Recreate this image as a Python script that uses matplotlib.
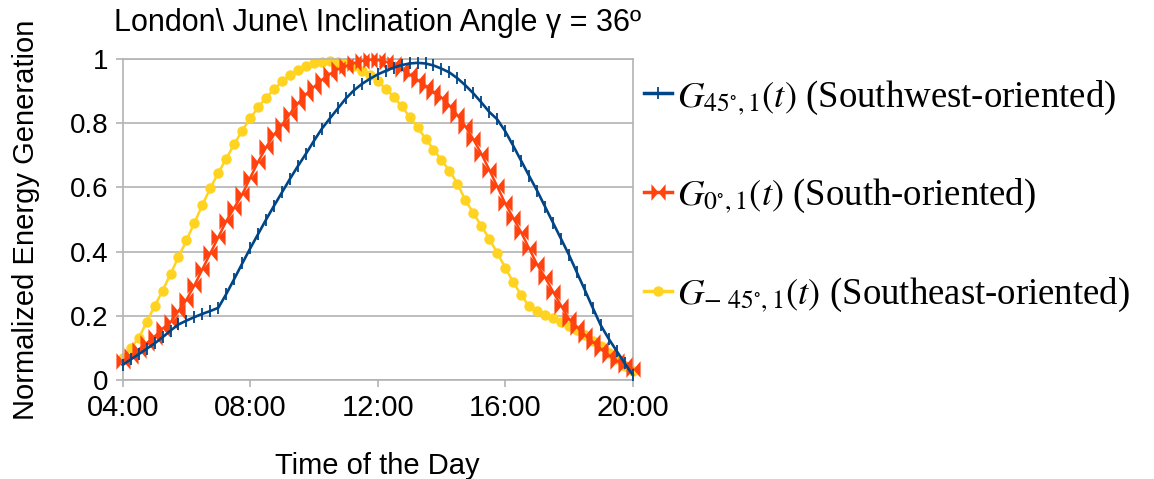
import numpy as np
import matplotlib
matplotlib.use("Agg")
import matplotlib.pyplot as plt
from matplotlib.path import Path
from matplotlib.ticker import FuncFormatter

# Time of day in hours, sampled every 15 minutes from 04:00 to 20:00
hours = np.arange(4.0, 20.0 + 1e-9, 0.25)

# Southwest-oriented panel (azimuth 45 deg)
southwest = [
    0.047, 0.064, 0.080, 0.097, 0.114, 0.133, 0.154, 0.173,
    0.185, 0.196, 0.206, 0.215, 0.225, 0.268, 0.315, 0.363,
    0.410, 0.455, 0.500, 0.543, 0.585, 0.627, 0.667, 0.705,
    0.745, 0.783, 0.815, 0.846, 0.877, 0.902, 0.922, 0.938,
    0.952, 0.963, 0.973, 0.981, 0.986, 0.988, 0.986, 0.980,
    0.970, 0.958, 0.940, 0.918, 0.893, 0.865, 0.835, 0.812,
    0.775, 0.730, 0.683, 0.636, 0.590, 0.540, 0.490, 0.440,
    0.390, 0.335, 0.280, 0.224, 0.170, 0.128, 0.090, 0.052,
    0.016,
]

# South-oriented panel (azimuth 0 deg)
south = [
    0.060, 0.075, 0.095, 0.115, 0.135, 0.160, 0.180, 0.215,
    0.250, 0.295, 0.345, 0.395, 0.445, 0.495, 0.537, 0.578,
    0.630, 0.680, 0.725, 0.765, 0.795, 0.830, 0.862, 0.890,
    0.913, 0.935, 0.953, 0.968, 0.978, 0.987, 0.994, 0.998,
    0.997, 0.992, 0.984, 0.968, 0.952, 0.935, 0.916, 0.896,
    0.880, 0.855, 0.825, 0.790, 0.750, 0.705, 0.655, 0.603,
    0.550, 0.505, 0.460, 0.410, 0.360, 0.320, 0.275, 0.232,
    0.190, 0.165, 0.140, 0.118, 0.097, 0.077, 0.060, 0.047,
    0.035,
]

# Southeast-oriented panel (azimuth -45 deg)
southeast = [
    0.070, 0.100, 0.130, 0.180, 0.230, 0.278, 0.330, 0.383,
    0.435, 0.490, 0.545, 0.598, 0.645, 0.690, 0.735, 0.777,
    0.815, 0.850, 0.880, 0.905, 0.930, 0.950, 0.966, 0.978,
    0.987, 0.992, 0.994, 0.992, 0.986, 0.977, 0.964, 0.950,
    0.930, 0.908, 0.882, 0.853, 0.820, 0.787, 0.752, 0.718,
    0.685, 0.652, 0.612, 0.560, 0.520, 0.480, 0.440, 0.396,
    0.350, 0.305, 0.265, 0.230, 0.215, 0.203, 0.192, 0.180,
    0.168, 0.155, 0.140, 0.123, 0.105, 0.085, 0.065, 0.045,
    0.028,
]

labels = [
    r"$G_{45^{\circ},1}(t)$ (Southwest-oriented)",
    r"$G_{0^{\circ},1}(t)$ (South-oriented)",
    r"$G_{-\ 45^{\circ},1}(t)$ (Southeast-oriented)",
]
x_ticks = [4, 8, 12, 16, 20]
y_ticks = [0, 0.2, 0.4, 0.6, 0.8, 1.0]

BLUE = "#004586"
RED = "#ff420e"
YELLOW = "#ffd320"
GRID = "#b3b3b3"

# Bow-tie symbol: two triangles meeting at the centre
bowtie = Path(
    [(-0.85, -1), (-0.85, 1), (0, 0), (-0.85, -1),
     (0.85, -1), (0.85, 1), (0, 0), (0.85, -1)],
    [Path.MOVETO, Path.LINETO, Path.LINETO, Path.CLOSEPOLY,
     Path.MOVETO, Path.LINETO, Path.LINETO, Path.CLOSEPOLY],
)

plt.rcParams["font.family"] = ["Liberation Sans", "DejaVu Sans"]
plt.rcParams["mathtext.fontset"] = "stix"

W, H = 1154, 479
fig = plt.figure(figsize=(W / 100, H / 100), dpi=100)
ax = fig.add_axes([122.7 / W, 1 - 380 / H, 510 / W, 321 / H])

l1, = ax.plot(hours, southwest, color=BLUE, lw=1.9, marker="|",
              ms=9, mew=1.3, clip_on=False, zorder=4)
l2, = ax.plot(hours, south, color=RED, lw=1.8, marker=bowtie,
              ms=12, mew=0, mfc=RED, clip_on=False, zorder=3)
l3, = ax.plot(hours, southeast, color=YELLOW, lw=1.8, marker="o",
              ms=7.5, mew=0, mfc=YELLOW, clip_on=False, zorder=2)

ax.set_xlim(4, 20)
ax.set_ylim(0, 1)
ax.set_xticks(x_ticks)
ax.set_xticklabels([f"{h:02d}:00" for h in x_ticks])
ax.set_yticks(y_ticks)
ax.yaxis.set_major_formatter(FuncFormatter(lambda v, p: f"{v:g}"))
ax.tick_params(axis="both", color=GRID, length=5, width=1.2,
               direction="out")
ax.tick_params(axis="x", labelsize=21, pad=5)
ax.tick_params(axis="y", labelsize=20, pad=5)
ax.grid(axis="y", color=GRID, lw=1.2)
ax.set_axisbelow(True)
for s in ax.spines.values():
    s.set_color(GRID)
    s.set_linewidth(1.2)

ax.set_title("London\\ June\\ Inclination Angle γ = 36º", fontsize=22,
             pad=20)
ax.set_xlabel("Time of the Day", fontsize=21, labelpad=22)
ax.set_ylabel("Normalized Energy Generation", fontsize=21, labelpad=22)

leg = fig.legend(
    [l1, l2, l3], labels,
    loc="center left", bbox_to_anchor=(644 / W, 1 - 196 / H),
    frameon=False, handlelength=0.75, handletextpad=0.15,
    labelspacing=1.63, borderaxespad=0, borderpad=0,
    prop={"family": "Liberation Serif", "size": 26.5},
)
for h in leg.legend_handles:
    h.set_linewidth(2.5)

fig.savefig("out.png", dpi=100)
